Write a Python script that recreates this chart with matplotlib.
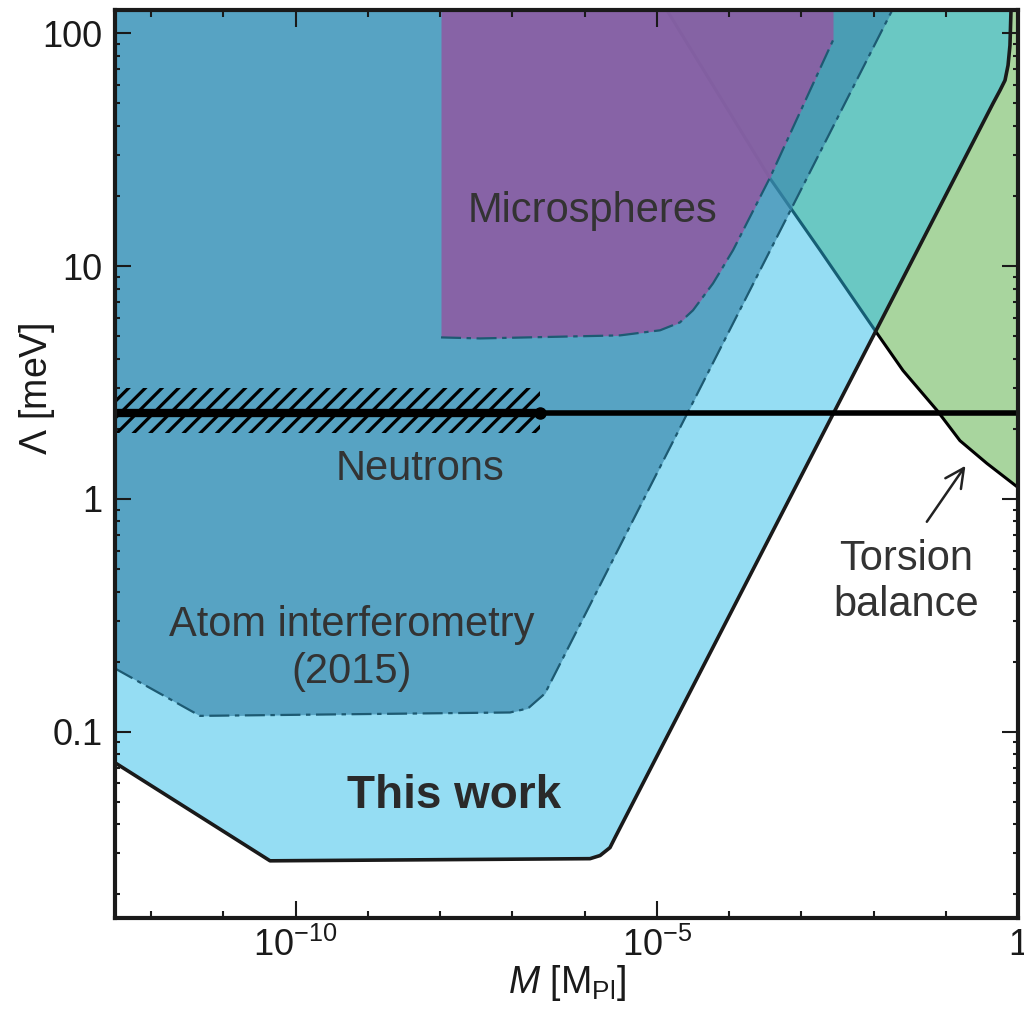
import numpy as np
import matplotlib
matplotlib.use("Agg")
import matplotlib.pyplot as plt
from matplotlib.ticker import FixedLocator, FuncFormatter, LogLocator, NullFormatter

plt.rcParams["font.family"] = ["Liberation Sans", "DejaVu Sans"]
plt.rcParams["mathtext.fontset"] = "custom"
plt.rcParams["mathtext.rm"] = "Liberation Sans"
plt.rcParams["mathtext.it"] = "Liberation Sans:italic"
plt.rcParams["mathtext.bf"] = "Liberation Sans:bold"
plt.rcParams["hatch.linewidth"] = 2.3

# axis range: M in Planck masses, Lambda in meV
m_lim = (10**-12.5, 1.0)
lam_lim = (10**-1.8, 10**2.1)

# this work - lower edge of the excluded region
this_M = [3.16e-13, 4.43e-11, 1.19e-6, 1.64e-6, 2.25e-6, 2.64e-6,
          0.451, 0.564, 0.661, 0.728, 0.774, 0.800, 0.800]
this_L = [0.0736, 0.0279, 0.0285, 0.0294, 0.0318, 0.0351,
          50.0, 56.9, 62.8, 72.8, 88.7, 125.6, 300.0]

# atom interferometry (2015)
atom_M = [3.16e-13, 4.75e-12, 9.29e-8, 1.65e-7, 2.83e-7, 0.0264]
atom_L = [0.187, 0.117, 0.121, 0.126, 0.146, 158.0]

# microspheres
micro_M = [1.03e-8, 3.57e-8, 3.10e-6, 1.11e-5, 2.09e-5, 3.17e-5,
           6.0e-5, 1.135e-4, 3.69e-4, 2.75e-3]
micro_L = [4.94, 4.89, 5.04, 5.30, 5.73, 6.46, 8.43, 11.7, 24.0, 93.3]

# torsion balance
tor_M = [8.77e-6, 1.38e-5, 3.69e-4, 1.82e-3, 0.0112, 0.0256,
         0.0757, 0.157, 0.372, 1.0]
tor_L = [158.0, 125.6, 23.8, 11.7, 5.14, 3.56, 2.40, 1.78, 1.42, 1.12]

# neutrons: band and central value
neut_L = 2.33
neut_lo, neut_hi = 1.91, 3.01
neut_M_end = 2.42e-7

lam_top = 1000.0
edge_col = "#1d5a72"
txt_col = "#333333"

fig = plt.figure(figsize=(10.24, 10.17), dpi=100)
ax = fig.add_axes([115 / 1024, 1 - 918 / 1017, 903 / 1024, 908 / 1017])
ax.set_xscale("log")
ax.set_yscale("log")

# torsion balance (drawn first, the other regions sit on top of it)
ax.fill_between(tor_M, tor_L, lam_top, color="#a8d59e", lw=0, zorder=1.0)
ax.plot(tor_M, tor_L, color="k", lw=2.2, zorder=1.1)

# this work
ax.fill_between(this_M, this_L, lam_top, color=(45 / 255, 189 / 255, 233 / 255),
                alpha=0.5, lw=0, zorder=1.2)

# atom interferometry
ax.fill_between(atom_M, atom_L, lam_top, color=(60 / 255, 138 / 255, 174 / 255),
                alpha=0.69, lw=0, zorder=1.3)
ax.plot(atom_M, atom_L, color=edge_col, lw=1.6, ls=(0, (9, 2.5, 2, 2.5)), zorder=1.4)

# microspheres
ax.fill_between(micro_M, micro_L, lam_top, color=(142 / 255, 91 / 255, 162 / 255),
                alpha=0.88, lw=0, zorder=1.5)
ax.plot(micro_M, micro_L, color=edge_col, lw=1.6, ls=(0, (9, 2.5, 2, 2.5)), zorder=1.6)

ax.plot(this_M, this_L, color="#1a1a1a", lw=2.6, zorder=1.7)

# neutrons
ax.fill_between([m_lim[0], neut_M_end], neut_lo, neut_hi, facecolor="none",
                edgecolor="k", hatch="//", lw=0, zorder=1.8)
ax.axhline(neut_L, color="k", lw=4.0, zorder=1.9)
ax.plot([m_lim[0], neut_M_end], [neut_L, neut_L], color="k", lw=6.0, zorder=1.9)
ax.plot([neut_M_end], [neut_L], "o", color="k", ms=8, zorder=2.0)

# region labels (multi-line labels are placed by the baseline of the last line)
ax.text(1.29e-6, 15.4, "Microspheres", ha="center", va="baseline",
        fontsize=30, color=txt_col)
ax.text(5.27e-9, 1.20, "Neutrons", ha="center", va="baseline",
        fontsize=30, color=txt_col)
ax.text(6.04e-10, 0.1626, "Atom interferometry\n(2015)", ha="center",
        va="baseline", multialignment="center", fontsize=30, color=txt_col)
ax.text(1.56e-8, 0.0472, "This work", ha="center", va="baseline",
        fontsize=33, fontweight="bold", color="#2a2a2a")
ax.text(0.0282, 0.315, "Torsion\nbalance", ha="center", va="baseline",
        multialignment="center", fontsize=30, color=txt_col)
ax.annotate("", xy=(0.197, 1.42), xytext=(0.052, 0.78),
            arrowprops=dict(arrowstyle="->", color="#222222", lw=1.8,
                            mutation_scale=34))

ax.set_xlim(*m_lim)
ax.set_ylim(*lam_lim)

ax.xaxis.set_major_locator(FixedLocator([1e-10, 1e-5, 1.0]))
ax.xaxis.set_minor_locator(FixedLocator(10.0 ** np.arange(-12, 0)))
ax.xaxis.set_major_formatter(FuncFormatter(
    lambda v, _: "1" if v == 1 else r"$10^{%d}$" % round(np.log10(v))))
ax.xaxis.set_minor_formatter(NullFormatter())
ax.yaxis.set_major_locator(LogLocator(base=10))
ax.yaxis.set_minor_locator(LogLocator(base=10, subs=np.arange(2, 10)))
ax.yaxis.set_major_formatter(FuncFormatter(lambda v, _: f"{v:g}"))
ax.yaxis.set_minor_formatter(NullFormatter())

ax.tick_params(which="both", direction="in", top=True, right=True,
               width=1.5, color="#1a1a1a", labelcolor="#1a1a1a")
ax.tick_params(axis="x", which="major", length=12, labelsize=26, pad=7)
ax.tick_params(axis="x", which="minor", length=5)
ax.tick_params(axis="y", which="major", length=11.5, labelsize=26, pad=9)
ax.tick_params(axis="y", which="minor", length=3.5)

for sp in ax.spines.values():
    sp.set_linewidth(3.0)
    sp.set_color("#1a1a1a")

ax.set_xlabel(r"$\mathit{M}$ [M$_\mathrm{Pl}$]", fontsize=27, color="#1a1a1a")
ax.set_ylabel(r"$\mathit{Λ}$ [meV]", fontsize=27, color="#1a1a1a")
ax.xaxis.set_label_coords(0.5, -0.05)
ax.yaxis.set_label_coords(-0.064, 0.583)

fig.savefig("out.png", dpi=100)
